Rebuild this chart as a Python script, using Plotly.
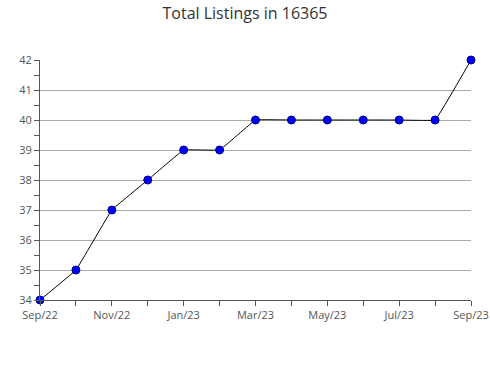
import plotly.graph_objects as go

months = ["Sep/22", "Oct/22", "Nov/22", "Dec/22", "Jan/23", "Feb/23", "Mar/23",
          "Apr/23", "May/23", "Jun/23", "Jul/23", "Aug/23", "Sep/23"]
listings = [34, 35, 37, 38, 39, 39, 40, 40, 40, 40, 40, 40, 42]
tick_labels = [m if i % 2 == 0 else "" for i, m in enumerate(months)]
y_ticks = [34, 35, 36, 37, 38, 39, 40, 41, 42]

x_idx = list(range(len(months)))

fig = go.Figure()
fig.add_trace(go.Scatter(
    x=x_idx, y=listings, mode="lines+markers",
    line=dict(color="black", width=1, shape="spline", smoothing=0.15),
    marker=dict(symbol="circle", size=8, color="#0000ff", line=dict(color="#000080", width=1)),
    cliponaxis=False, hoverinfo="x+y", text=months,
))

fig.update_layout(
    width=490, height=380,
    margin=dict(l=40, r=19, t=60, b=80),
    paper_bgcolor="white", plot_bgcolor="white",
    showlegend=False,
    font=dict(family="Open Sans", color="#555555", size=11),
    title=dict(text="Total Listings in 16365", x=0.5, xanchor="center", y=0.965, yanchor="middle",
               font=dict(family="Open Sans", size=16, color="#333333")),
    xaxis=dict(range=[0, 12], tickvals=x_idx, ticktext=tick_labels, ticks="outside", ticklen=5,
               tickcolor="#555555", showline=True, linecolor="#555555", linewidth=1,
               showgrid=False, zeroline=False, fixedrange=True, automargin=False),
    yaxis=dict(range=[34, 42], tickvals=y_ticks, ticks="outside", ticklen=5, tickcolor="#555555",
               showline=True, linecolor="#555555", linewidth=1,
               showgrid=True, gridcolor="#aaaaaa", gridwidth=1, zeroline=False,
               minor=dict(dtick=0.5, ticks="outside", ticklen=5, tickcolor="#555555", showgrid=False),
               fixedrange=True, automargin=False),
)

fig.write_html("out.html")
